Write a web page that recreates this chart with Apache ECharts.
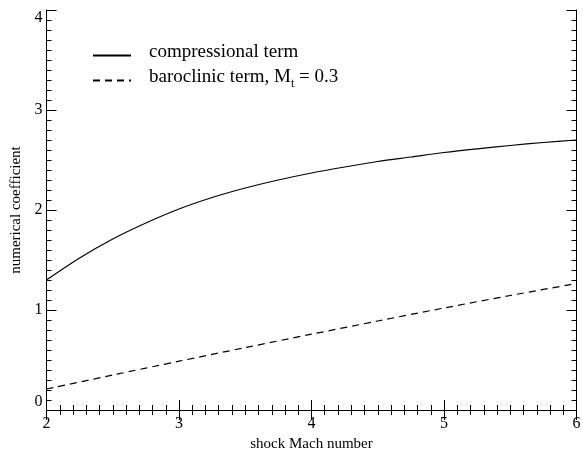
<!DOCTYPE html>
<html>
<head>
<meta charset="utf-8">
<script src="https://cdn.jsdelivr.net/npm/echarts@6/dist/echarts.min.js"></script>
<style>html,body{margin:0;padding:0;background:#fff}#c{width:583px;height:449px}</style>
</head>
<body>
<div id="c"></div>
<script>
// Shock Mach number samples and read-off values
const machCompressional = [2.0, 2.25, 2.5, 2.75, 3.0, 3.25, 3.5, 3.75, 4.0, 4.25, 4.5, 4.75, 5.0, 5.25, 5.5, 5.75, 6.0];
const compressionalTerm = [1.30, 1.52, 1.71, 1.87, 2.01, 2.125, 2.22, 2.30, 2.37, 2.43, 2.485, 2.53, 2.575, 2.612, 2.645, 2.675, 2.70];
const machBaroclinic = [2.0, 2.5, 3.0, 3.5, 4.0, 4.5, 5.0, 5.5, 6.0];
const baroclinicTerm = [0.21, 0.35, 0.488, 0.624, 0.758, 0.89, 1.02, 1.145, 1.265];
const seriesNames = ['compressional term', 'baroclinic term, M_t = 0.3'];
const xTitle = 'shock Mach number';
const yTitle = 'numerical coefficient';

const FONT = '"Liberation Serif", "DejaVu Serif", serif';
const chart = echarts.init(document.getElementById('c'), null, {renderer: 'canvas'});

function axisCommon() {
  return {
    axisLine: {show: true, lineStyle: {color: '#000', width: 1}},
    axisTick: {show: true, inside: true, length: 10, lineStyle: {color: '#000', width: 1}},
    minorTick: {show: true, splitNumber: 10, length: 5, lineStyle: {color: '#000', width: 1}},
    splitLine: {show: false}
  };
}

const option = {
  animation: false,
  backgroundColor: '#fff',
  grid: {left: 46.5, right: 6.5, top: 10, bottom: 39, containLabel: false, outerBoundsMode: 'none'},
  legend: {
    orient: 'vertical', left: 87, top: 38, itemWidth: 38, itemHeight: 12, itemGap: 6,
    data: seriesNames,
    itemStyle: {color: 'rgba(0,0,0,0)', borderWidth: 0, opacity: 0},
    textStyle: {
      color: '#000', fontFamily: FONT, fontSize: 19, padding: [0, 0, 6, 13],
      rich: {sub: {fontFamily: FONT, fontSize: 12, verticalAlign: 'bottom', padding: [12, 0, 0, 0], color: '#000'},
             n: {fontFamily: FONT, fontSize: 19, color: '#000'}}
    },
    formatter: function (name) {
      if (name.indexOf('M_t') >= 0) return '{n|baroclinic term, M}{sub|t}{n| = 0.3}';
      return name;
    }
  },
  xAxis: [
    Object.assign({type: 'value', position: 'bottom', min: 2, max: 6, interval: 1,
      name: xTitle, nameLocation: 'middle', nameGap: 16,
      nameTextStyle: {color: '#000', fontFamily: FONT, fontSize: 15}}, axisCommon(),
      {axisLabel: {show: true, color: '#000', fontFamily: FONT, fontSize: 16, margin: 6}}),
    Object.assign({type: 'value', position: 'top', min: 2, max: 6, interval: 1}, axisCommon(),
      {axisLabel: {show: false}})
  ],
  yAxis: [
    Object.assign({type: 'value', position: 'left', min: 0, max: 4, interval: 1,
      name: yTitle, nameLocation: 'middle', nameGap: 20,
      nameTextStyle: {color: '#000', fontFamily: FONT, fontSize: 15}}, axisCommon(),
      {axisLabel: {show: true, color: '#000', fontFamily: FONT, fontSize: 16, margin: 4,
        verticalAlignMinLabel: 'bottom', verticalAlignMaxLabel: 'top'}}),
    Object.assign({type: 'value', position: 'right', min: 0, max: 4, interval: 1}, axisCommon(),
      {axisLabel: {show: false}})
  ],
  series: [
    {
      name: seriesNames[0], type: 'line', smooth: 0.3, symbol: 'none',
      lineStyle: {color: '#000', width: 1.2},
      itemStyle: {color: '#000'},
      data: machCompressional.map((x, i) => [x, compressionalTerm[i]])
    },
    {
      name: seriesNames[1], type: 'line', smooth: 0.3, symbol: 'none',
      lineStyle: {color: '#000', width: 1.2, type: [7, 5]},
      itemStyle: {color: '#000'},
      data: machBaroclinic.map((x, i) => [x, baroclinicTerm[i]])
    }
  ]
};
chart.setOption(option);
</script>
</body>
</html>
